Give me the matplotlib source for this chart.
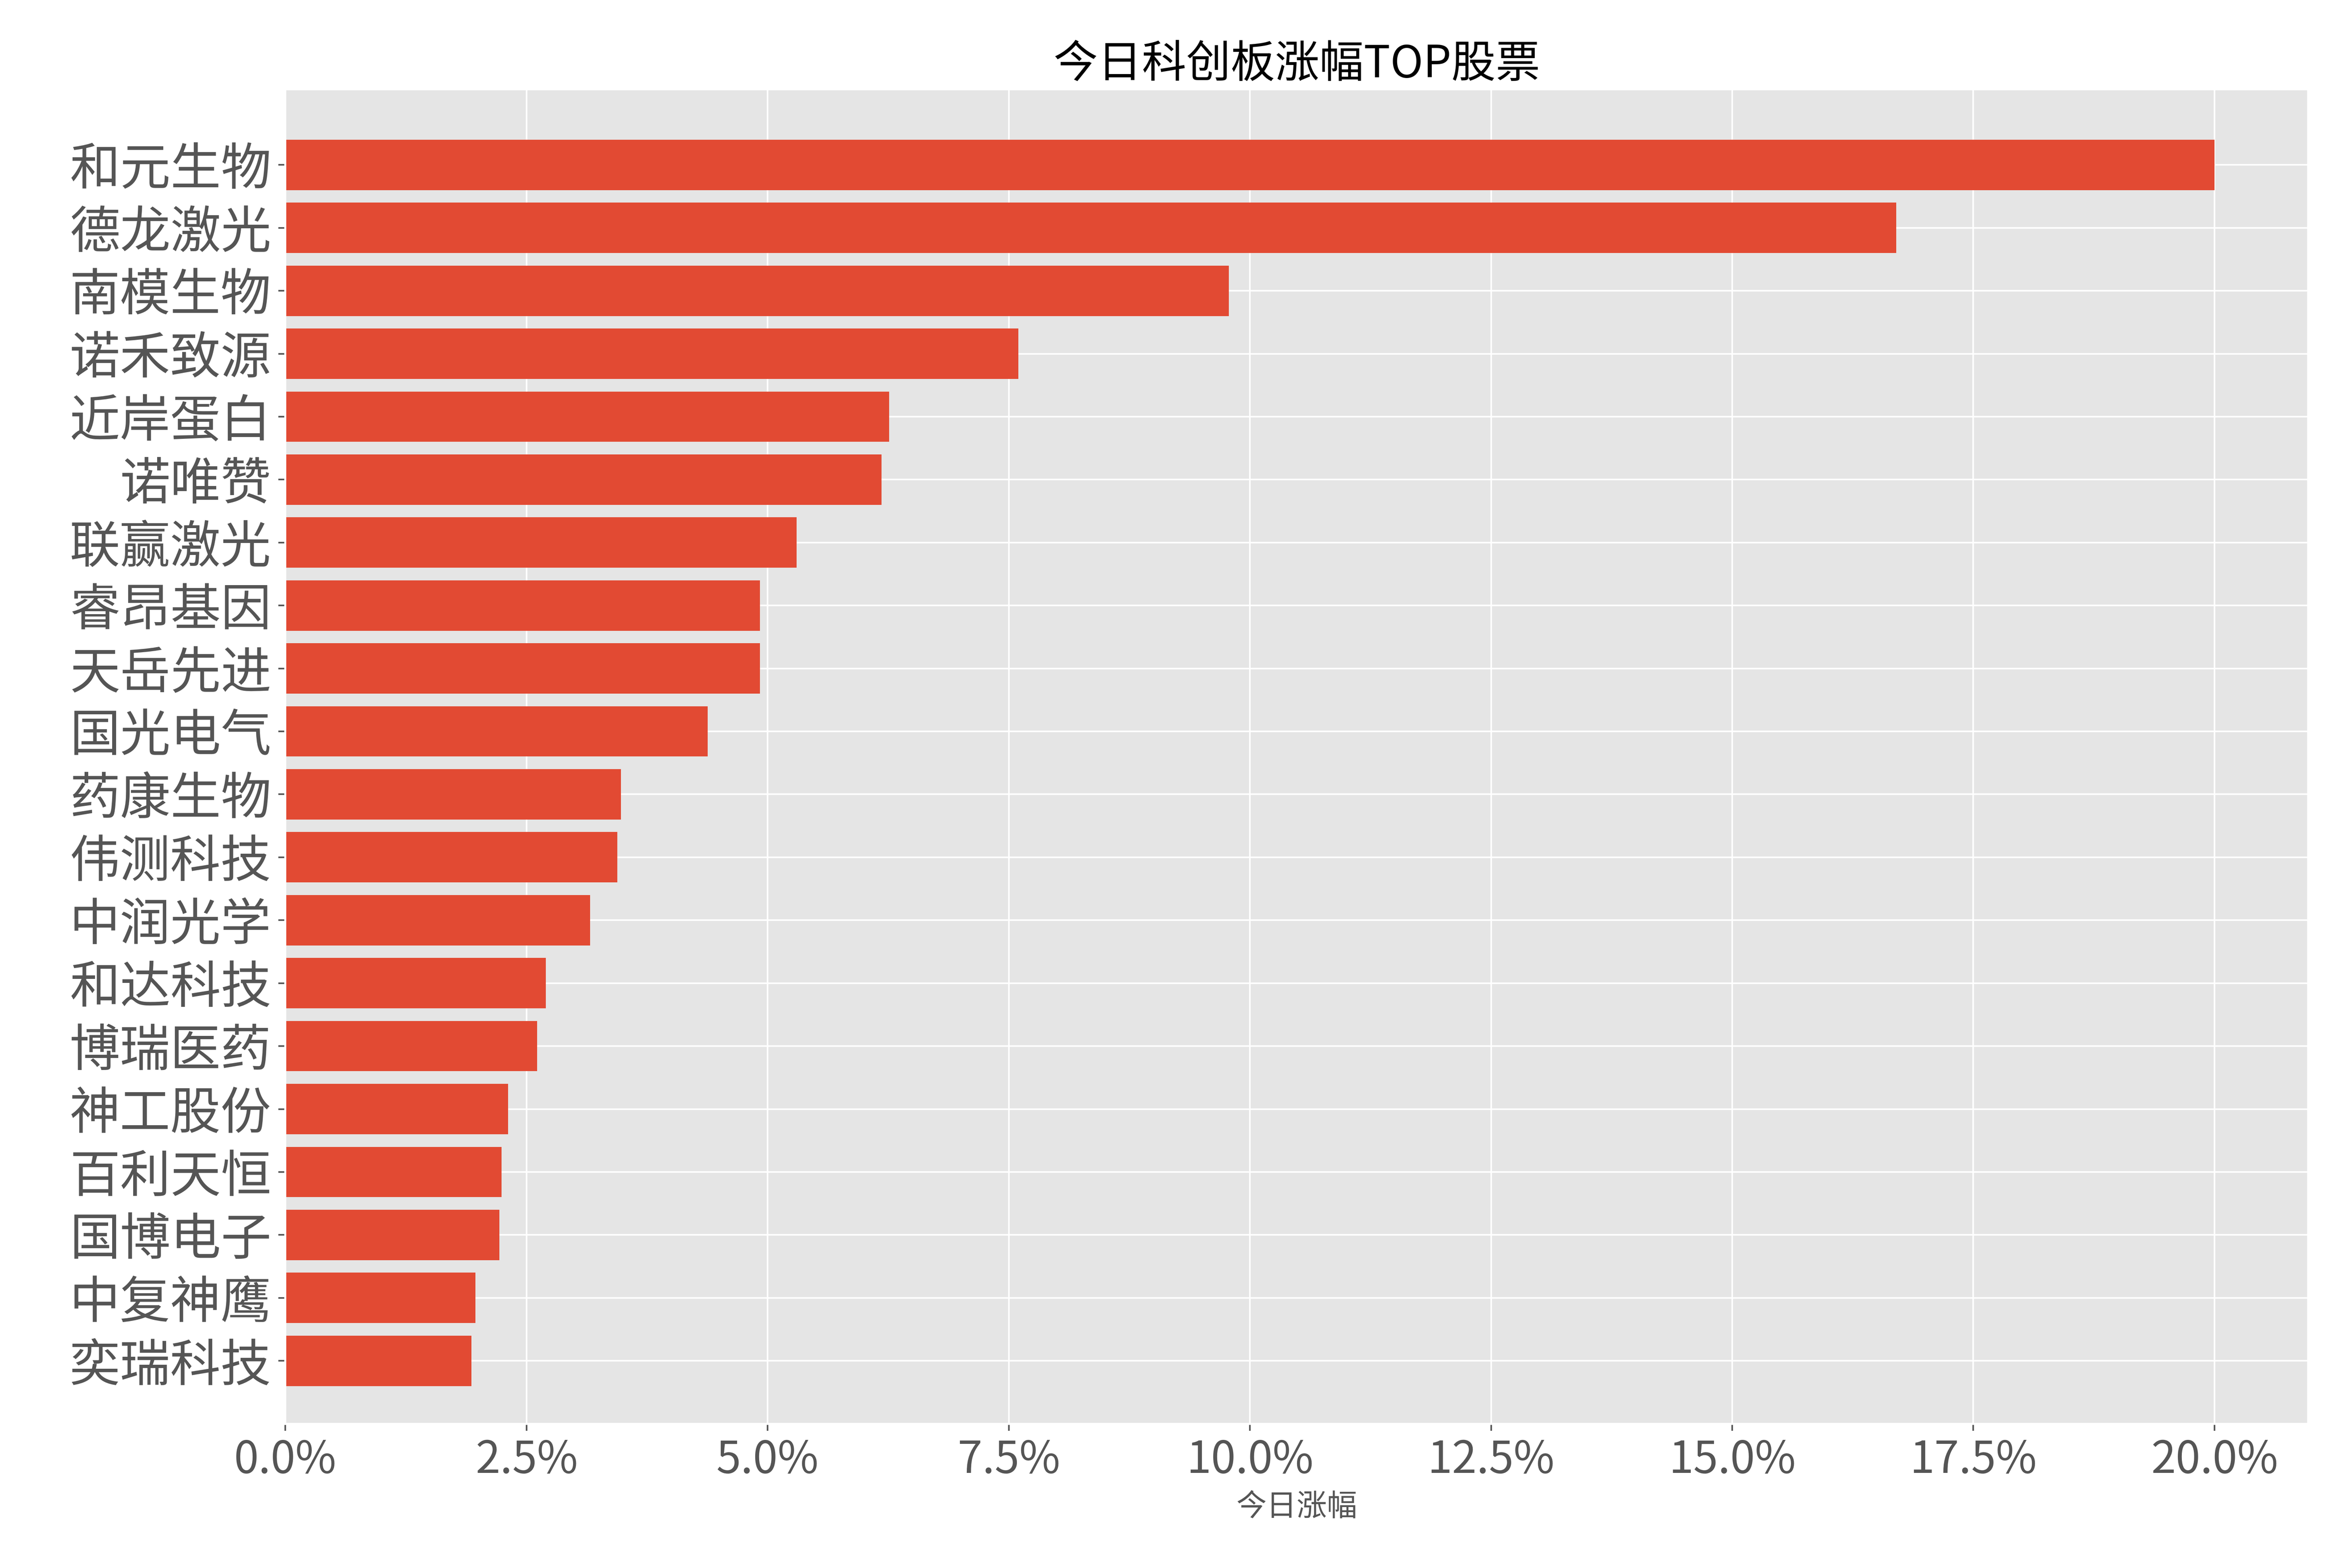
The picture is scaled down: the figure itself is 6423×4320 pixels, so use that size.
import matplotlib
matplotlib.use("Agg")
import matplotlib.pyplot as plt
from matplotlib.ticker import FuncFormatter

plt.style.use("ggplot")
plt.rcParams['font.family'] = ['Noto Sans CJK SC', 'DejaVu Sans']

names = ["和元生物","德龙激光","南模生物","诺禾致源","近岸蛋白","诺唯赞","联赢激光","睿昂基因","天岳先进","国光电气",
         "药康生物","伟测科技","中润光学","和达科技","博瑞医药","神工股份","百利天恒","国博电子","中复神鹰","奕瑞科技"]
values = [20.0,16.70,9.78,7.60,6.26,6.18,5.30,4.92,4.92,4.38,3.48,3.44,3.16,2.70,2.61,2.31,2.24,2.22,1.97,1.93]

fig = plt.figure(figsize=(16.06, 10.8), dpi=400)
ax = fig.add_axes([0.1224, 0.092, 0.8676, 0.851])
ax.barh(names[::-1], values[::-1], color="#E24A33")
ax.set_xlim(0, 20.97)
ax.set_ylim(-1.0, 20.2)
ax.set_xticks([0,2.5,5,7.5,10,12.5,15,17.5,20])
ax.xaxis.set_major_formatter(FuncFormatter(lambda v, p: f"{v:.1f}%"))
ax.tick_params(axis='y', labelsize=25, colors='#555555')
ax.tick_params(axis='x', labelsize=22, colors='#555555')
ax.set_xlabel("今日涨幅", fontsize=15, color='#555555')
ax.set_title("今日科创板涨幅TOP股票", fontsize=22)
fig.savefig("out.png", dpi=400)
